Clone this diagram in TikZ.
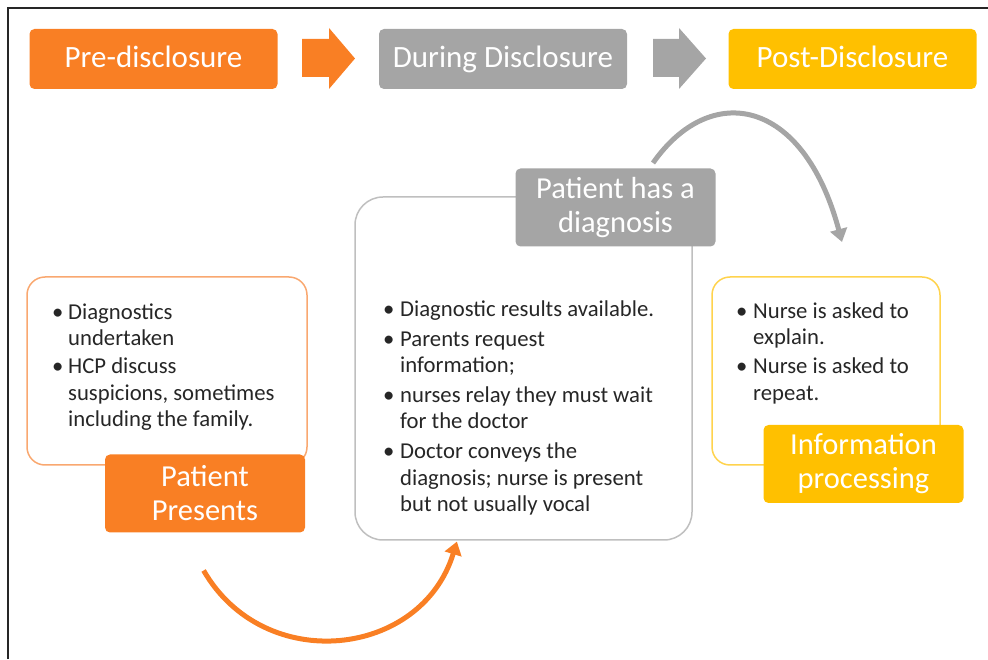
\documentclass[tikz,border=0pt]{standalone}
\usepackage{fontspec}
\setmainfont{Carlito}
\usetikzlibrary{arrows.meta}

\definecolor{discorange}{HTML}{F97F24}
\definecolor{discgray}{HTML}{A5A5A5}
\definecolor{discyellow}{HTML}{FFC000}
\definecolor{lineorange}{HTML}{F9A870}
\definecolor{linegray}{HTML}{BFBFBF}
\definecolor{lineyellow}{HTML}{FFD34D}
\definecolor{bodytext}{HTML}{262626}

\tikzset{
  phase/.style={fill=#1, rounded corners=5pt, minimum width=248pt, minimum height=60pt,
    inner sep=0pt, text=white, text height=24pt, text depth=6pt, font=\fontsize{31}{36}\selectfont},
  stagebox/.style={draw=#1, line width=1.5pt, rounded corners=18pt, inner sep=0pt},
  stagelabel/.style={fill=#1, rounded corners=5pt, minimum width=200pt, minimum height=78pt,
    inner sep=0pt, text=white, align=center, font=\fontsize{30.5}{34}\selectfont},
  bullets/.style={inner sep=0pt, anchor=north west, text=bodytext, font=\fontsize{22.7}{26.5}\selectfont},
  turnarrow/.style={draw=#1, line width=5pt, -{Triangle[length=13pt,width=17pt]}},
}

\begin{document}
\begin{tikzpicture}[x=1pt, y=1pt]
  \useasboundingbox (0,0) rectangle (988,659);
  \draw[line width=1.8pt, black!85] (8,0) -- (8,651) -- (988,651);

  % phases
  \node[phase=discorange] (pre) at (153.5,600) {Pre-disclosure};
  \node[phase=discgray] (during) at (503,600) {During Disclosure};
  \node[phase=discyellow] (post) at (852.5,600) {Post-Disclosure};
  \fill[discorange] (302,582) -- (329,582) -- (329,570) -- (355,600.5) -- (329,631) -- (329,620) -- (302,620) -- cycle;
  \fill[discgray] (653,582) -- (679,582) -- (679,570) -- (706,600.5) -- (679,631) -- (679,620) -- (653,620) -- cycle;

  % stages
  \node[stagebox=lineorange, minimum width=280pt, minimum height=188pt] (prebox) at (167,288) {};
  \node[stagebox=linegray, rounded corners=28pt, minimum width=337pt, minimum height=343pt] (durbox) at (523.5,290.5) {};
  \node[stagebox=lineyellow, minimum width=228pt, minimum height=188pt] (postbox) at (826,288) {};

  \node[stagelabel=discorange] (presents) at (205,165.5) {Patient\\Presents};
  \node[stagelabel=discgray] (diagnosis) at (615.5,451.5) {Patient has a\\diagnosis};
  \node[stagelabel=discyellow] (processing) at (863.5,195) {Information\\processing};

  \node[bullets] (pretext) at (52,358.5) {\begin{tabular}{@{}p{16pt}@{}l@{}}
    \textbullet & Diagnostics\\ & undertaken\\[1.5pt]
    \textbullet & HCP discuss\\ & suspicions, sometimes\\ & including the family.
  \end{tabular}};
  \node[bullets] (durtext) at (383,361.5) {\begin{tabular}{@{}p{17pt}@{}l@{}}
    \textbullet & Diagnostic results available.\\[3.5pt]
    \textbullet & Parents request\\ & information;\\[3pt]
    \textbullet & nurses relay they must wait\\ & for the doctor\\[3.5pt]
    \textbullet & Doctor conveys the\\ & diagnosis; nurse is present\\ & but not usually vocal
  \end{tabular}};
  \node[bullets] (posttext) at (736,359.5) {\begin{tabular}{@{}p{17pt}@{}l@{}}
    \textbullet & Nurse is asked to\\ & explain.\\[2.5pt]
    \textbullet & Nurse is asked to\\ & repeat.
  \end{tabular}};

  % turns
  \coordinate (oa) at (203.6,88.5);
  \coordinate (ob) at (456.9,117.4);
  \draw[turnarrow=discorange] (oa) .. controls +(300:121.5) and +(253:121.5) .. (ob);
  \coordinate (ga) at (653,496);
  \coordinate (gb) at (842,417);
  \draw[turnarrow=discgray] (ga) .. controls (710.4,577.9) and (803.2,561.9) .. (gb);
\end{tikzpicture}
\end{document}
